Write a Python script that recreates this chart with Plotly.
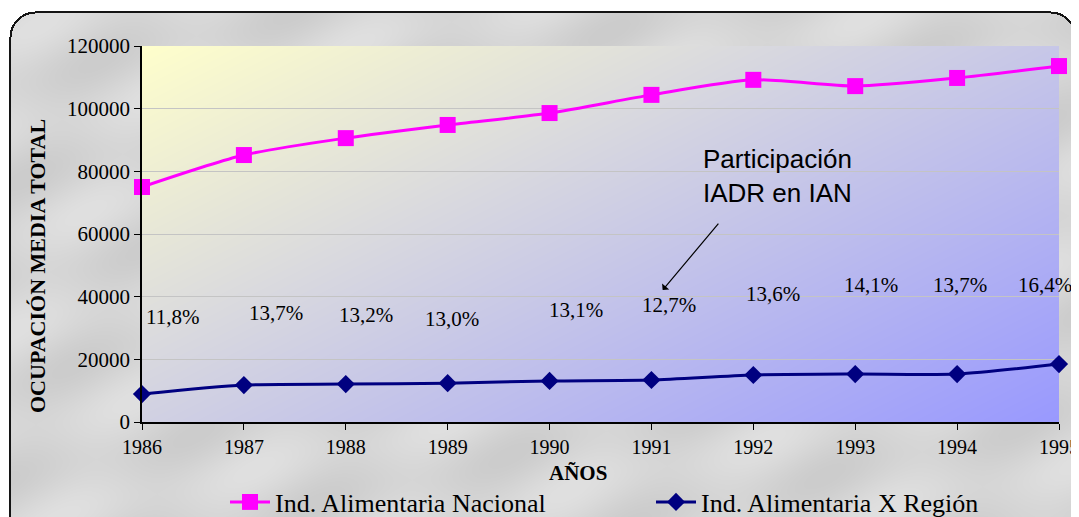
import base64, struct, zlib
import numpy as np
import plotly.graph_objects as go

# ---------------- data ----------------
years = [1986, 1987, 1988, 1989, 1990, 1991, 1992, 1993, 1994, 1995]
nacional = [75000, 85200, 90600, 94800, 98600, 104400, 109200, 107200, 109800, 113600]
region = [8900, 11800, 12100, 12400, 13100, 13400, 15000, 15300, 15300, 18500]
participacion = ["11,8%", "13,7%", "13,2%", "13,0%", "13,1%", "12,7%", "13,6%", "14,1%", "13,7%", "16,4%"]
y_ticks = [0, 20000, 40000, 60000, 80000, 100000, 120000]

# label anchor positions (layout) for the percentage labels
pct_x = [1986.30, 1987.32, 1988.20, 1989.04, 1990.26, 1991.17, 1992.19, 1993.15, 1994.03, 1994.86]
pct_y = [33500, 34800, 34150, 32900, 35750, 37350, 40850, 43700, 43700, 43700]

# ---------------- layout geometry ----------------
# the page body has an 8px margin, so the figure is placed at (8, 8)
OFF = 8
W, H = 1079 - OFF, 517 - OFF
ML, MR, MT, MB = 142 - OFF, 20, 46 - OFF, 95
PW, PH = W - ML - MR, H - MT - MB


def px_to_paper_x(px):
    return (px - OFF - ML) / PW


def px_to_paper_y(py):
    return (MT + PH - (py - OFF)) / PH


def make_png(arr):
    h, w, _ = arr.shape
    raw = b"".join(b"\x00" + arr[r].tobytes() for r in range(h))
    def chunk(tag, data):
        c = struct.pack(">I", len(data)) + tag + data
        return c + struct.pack(">I", zlib.crc32(tag + data) & 0xFFFFFFFF)
    png = b"\x89PNG\r\n\x1a\n"
    png += chunk(b"IHDR", struct.pack(">IIBBBBB", w, h, 8, 2, 0, 0, 0))
    png += chunk(b"IDAT", zlib.compress(raw, 9))
    png += chunk(b"IEND", b"")
    return "data:image/png;base64," + base64.b64encode(png).decode()


# background: white page, rounded grey panel with black border, gradient plot area
img = np.full((H, W, 3), 255, dtype=np.float64)
yy, xx = np.mgrid[0:H, 0:W]
x0, y0, x1, y1, rad = 9 - OFF, 11 - OFF, 1076 - OFF, 540, 26


def rounded_mask(x0, y0, x1, y1, rad):
    m = (xx >= x0) & (xx <= x1) & (yy >= y0) & (yy <= y1)
    for cx, cy in [(x0 + rad, y0 + rad), (x1 - rad, y0 + rad), (x0 + rad, y1 - rad), (x1 - rad, y1 - rad)]:
        corner = ((xx < x0 + rad) if cx == x0 + rad else (xx > x1 - rad)) & \
                 ((yy < y0 + rad) if cy == y0 + rad else (yy > y1 - rad))
        m &= ~(corner & ((xx - cx) ** 2 + (yy - cy) ** 2 > rad ** 2))
    return m


outer = rounded_mask(x0, y0, x1, y1, rad)
inner = rounded_mask(x0 + 2, y0 + 2, x1 - 2, y1 - 2, rad - 2)
img[outer] = [20, 20, 20]
# soft marble-like grey
shade = 214 + 10 * np.sin(xx / 37.0 + yy / 23.0) * np.cos(yy / 51.0 - xx / 89.0)
grey = np.stack([shade, shade, shade], axis=-1)
img[inner] = grey[inner]

# plot-area gradient (top-left pale yellow -> bottom-right periwinkle)
py, px = np.mgrid[0:PH, 0:PW]
t = (px / PW * 0.55 + py / PH * 0.45)
c0 = np.array([255, 255, 204], dtype=float)
c1 = np.array([153, 153, 255], dtype=float)
grad = c0[None, None, :] * (1 - t[..., None]) + c1[None, None, :] * t[..., None]
img[MT:MT + PH, ML:ML + PW] = grad
bg_src = make_png(np.clip(img, 0, 255).astype(np.uint8))

# ---------------- figure ----------------
fig = go.Figure()
fig.add_trace(go.Scatter(
    x=years, y=nacional, name="Ind. Alimentaria Nacional",
    mode="lines+markers",
    line=dict(color="#FF00FF", width=3, shape="spline", smoothing=0.7),
    marker=dict(symbol="square", size=16, color="#FF00FF"),
    cliponaxis=False,
))
fig.add_trace(go.Scatter(
    x=years, y=region, name="Ind. Alimentaria X Región",
    mode="lines+markers",
    line=dict(color="#000080", width=3, shape="spline", smoothing=0.7),
    marker=dict(symbol="diamond", size=14, color="#000080"),
    cliponaxis=False,
))

serif = "Liberation Serif, Times New Roman, serif"
annotations = []
for x, y, txt in zip(pct_x, pct_y, participacion):
    annotations.append(dict(x=x, y=y, xref="x", yref="y", text=txt, showarrow=False,
                            xanchor="center", yanchor="middle",
                            font=dict(family=serif, size=21, color="black")))
annotations.append(dict(x=1992.24, y=78500, xref="x", yref="y",
                        text="Participación<br>IADR en IAN", showarrow=False,
                        xanchor="center", yanchor="middle",
                        font=dict(family="Liberation Sans, Arial, sans-serif", size=26, color="black")))
annotations.append(dict(x=1991.11, y=42100, xref="x", yref="y", text="", showarrow=True,
                        ax=57, ay=-68, arrowhead=1, arrowsize=1.3, arrowwidth=1.2, arrowcolor="black"))
annotations.append(dict(x=px_to_paper_x(578), y=px_to_paper_y(473), xref="paper", yref="paper",
                        text="<b>AÑOS</b>", showarrow=False, xanchor="center", yanchor="middle",
                        font=dict(family=serif, size=21, color="black")))
annotations.append(dict(x=px_to_paper_x(37), y=px_to_paper_y(266), xref="paper", yref="paper",
                        text="<b>OCUPACIÓN MEDIA TOTAL</b>", showarrow=False, textangle=-90,
                        xanchor="center", yanchor="middle",
                        font=dict(family=serif, size=22, color="black")))

fig.update_layout(
    width=W, height=H,
    margin=dict(l=ML, r=MR, t=MT, b=MB, autoexpand=False),
    paper_bgcolor="white",
    plot_bgcolor="rgba(0,0,0,0)",
    images=[dict(source=bg_src, xref="paper", yref="paper",
                 x=-ML / PW, y=1 + MT / PH, sizex=W / PW, sizey=H / PH,
                 xanchor="left", yanchor="top", sizing="stretch", layer="below")],
    xaxis=dict(range=[1986, 1995], tickvals=years, ticktext=[str(v) for v in years],
               showgrid=False, zeroline=False, showline=True, linecolor="black", linewidth=1.5,
               ticks="outside", ticklen=6, tickcolor="black",
               tickfont=dict(family=serif, size=20, color="black")),
    yaxis=dict(range=[0, 120000], tickvals=y_ticks, ticktext=[str(v) for v in y_ticks],
               showgrid=True, gridcolor="#c4c4c4", gridwidth=1, zeroline=False,
               showline=True, linecolor="black", linewidth=1.5,
               ticks="outside", ticklen=6, tickcolor="black",
               tickfont=dict(family=serif, size=21, color="black")),
    legend=dict(orientation="h", x=px_to_paper_x(225), xanchor="left",
                y=px_to_paper_y(502), yanchor="middle",
                bgcolor="rgba(0,0,0,0)", font=dict(family=serif, size=26, color="black"),
                entrywidth=371, entrywidthmode="pixels", itemwidth=40),
    annotations=annotations,
    showlegend=True,
)

fig.write_html("out.html")
